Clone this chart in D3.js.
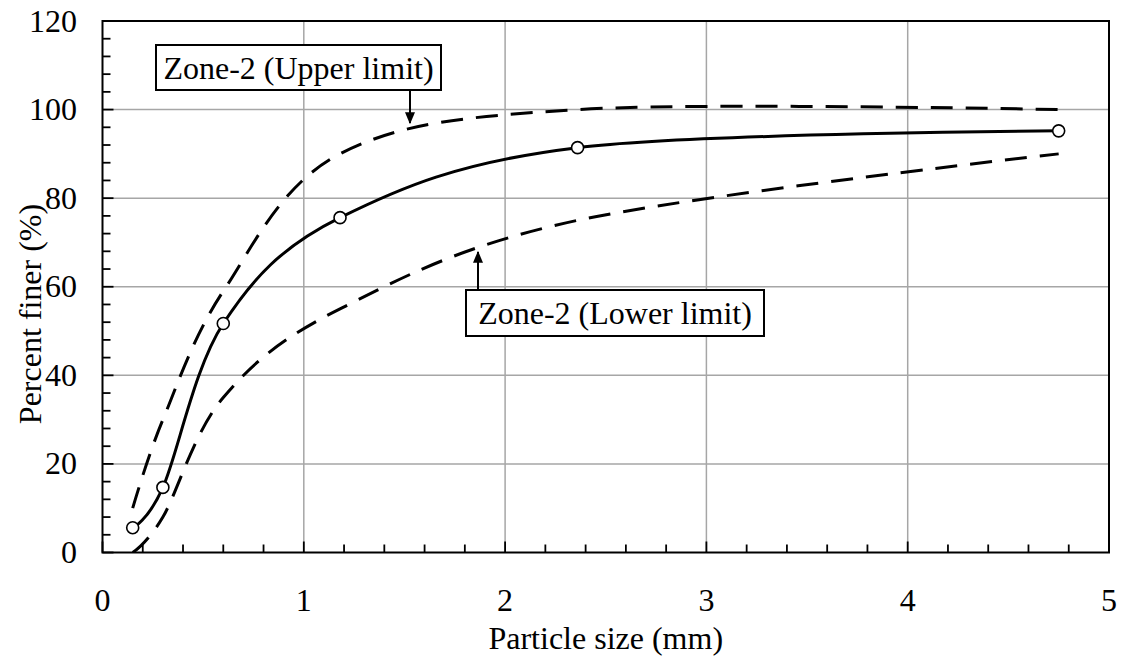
<!DOCTYPE html>
<html>
<head>
<meta charset="utf-8">
<script src="https://cdn.jsdelivr.net/npm/d3@7"></script>
<style>
  html, body { margin: 0; padding: 0; background: #fff; }
  svg { display: block; }
  svg text { font-family: "Liberation Serif", "Times New Roman", Times, "DejaVu Serif", serif; }
</style>
</head>
<body>
<svg id="chart" width="1124" height="657"></svg>
<script>
// Sieve sizes (mm) and percent finer
const sieveSizes = [0.15, 0.3, 0.6, 1.18, 2.36, 4.75];
const sampleFiner = [5.6, 14.7, 51.7, 75.6, 91.4, 95.2];
const upperLimit = [10, 30, 59, 90, 100, 100];
const lowerLimit = [0, 8, 35, 55, 75, 90];

const xTicks = [0, 1, 2, 3, 4, 5];
const yTicks = [0, 20, 40, 60, 80, 100, 120];

const upperLabel = "Zone-2 (Upper limit)";
const lowerLabel = "Zone-2 (Lower limit)";
const xTitle = "Particle size (mm)";
const yTitle = "Percent finer (%)";

const FONT = "'Liberation Serif', 'Times New Roman', Times, 'DejaVu Serif', serif";

const svg = d3.select("#chart");
const plotL = 102.5, plotR = 1109, plotT = 21, plotB = 552.5;

const x = d3.scaleLinear().domain([0, 5]).range([plotL, plotR]);
const y = d3.scaleLinear().domain([0, 120]).range([plotB, plotT]);

// Gridlines
const grid = svg.append("g").attr("stroke", "#a6a6a6").attr("stroke-width", 1.5);
grid.selectAll(".gx").data(xTicks.slice(1, -1)).join("line")
  .attr("x1", d => x(d)).attr("x2", d => x(d)).attr("y1", plotT).attr("y2", plotB);
grid.selectAll(".gy").data(yTicks.slice(1, -1)).join("line")
  .attr("y1", d => y(d)).attr("y2", d => y(d)).attr("x1", plotL).attr("x2", plotR);

// Minor and major inward ticks
const xMinor = d3.range(0, 5.0001, 0.2);
const yMinor = d3.range(0, 120.0001, 4);
const ticks = svg.append("g").attr("stroke", "#000").attr("stroke-width", 1.8);
ticks.selectAll(".tx").data(xMinor).join("line")
  .attr("x1", d => x(d)).attr("x2", d => x(d))
  .attr("y1", plotB).attr("y2", (d, i) => plotB - (i % 5 === 0 ? 11 : 8));
ticks.selectAll(".ty").data(yMinor).join("line")
  .attr("y1", d => y(d)).attr("y2", d => y(d))
  .attr("x1", plotL).attr("x2", (d, i) => plotL + (i % 5 === 0 ? 11 : 8));

// Plot frame
svg.append("rect")
  .attr("x", plotL).attr("y", plotT).attr("width", plotR - plotL).attr("height", plotB - plotT)
  .attr("fill", "none").attr("stroke", "#000").attr("stroke-width", 2);

// Tick labels
svg.append("g").selectAll("text").data(xTicks).join("text")
  .attr("x", d => x(d)).attr("y", 611)
  .attr("text-anchor", "middle").attr("font-family", FONT).attr("font-size", 32).attr("fill", "#000")
  .text(d => d);
svg.append("g").selectAll("text").data(yTicks).join("text")
  .attr("x", 77).attr("y", d => y(d) + 10.5)
  .attr("text-anchor", "end").attr("font-family", FONT).attr("font-size", 32).attr("fill", "#000")
  .text(d => d);

// Axis titles
svg.append("text")
  .attr("x", (plotL + plotR) / 2).attr("y", 649)
  .attr("text-anchor", "middle").attr("font-family", FONT).attr("font-size", 32).text(xTitle);
svg.append("text")
  .attr("transform", "translate(41,314) rotate(-90)")
  .attr("text-anchor", "middle").attr("font-family", FONT).attr("font-size", 32).text(yTitle);

// Smoothed gradation curves
const line = d3.line()
  .x(d => x(d[0])).y(d => y(d[1]))
  .curve(d3.curveCardinal.tension(0));

const zip = vals => sieveSizes.map((s, i) => [s, vals[i]]);

svg.append("clipPath").attr("id", "plotClip")
  .append("rect").attr("x", plotL).attr("y", plotT).attr("width", plotR - plotL).attr("height", plotB - plotT);

const curves = svg.append("g").attr("clip-path", "url(#plotClip)");
[upperLimit, lowerLimit].forEach(vals => {
  curves.append("path")
    .attr("d", line(zip(vals)))
    .attr("fill", "none").attr("stroke", "#000")
    .attr("stroke-width", 3).attr("stroke-dasharray", "22,13");
});
curves.append("path")
  .attr("d", line(zip(sampleFiner)))
  .attr("fill", "none").attr("stroke", "#000").attr("stroke-width", 3);

svg.append("g").selectAll("circle").data(zip(sampleFiner)).join("circle")
  .attr("cx", d => x(d[0])).attr("cy", d => y(d[1])).attr("r", 6)
  .attr("fill", "#fff").attr("stroke", "#000").attr("stroke-width", 1.6);

// Callout labels with arrows
svg.append("defs").append("marker")
  .attr("id", "arrowHead").attr("viewBox", "0 0 10 10")
  .attr("refX", 9).attr("refY", 5)
  .attr("markerWidth", 6).attr("markerHeight", 5)
  .attr("markerUnits", "strokeWidth").attr("orient", "auto")
  .attr("preserveAspectRatio", "none")
  .append("path").attr("d", "M0,0 L10,5 L0,10 Z").attr("fill", "#000");

function callout(label, bx, by, bw, bh, ax1, ay1, ax2, ay2) {
  svg.append("line")
    .attr("x1", ax1).attr("y1", ay1).attr("x2", ax2).attr("y2", ay2)
    .attr("stroke", "#000").attr("stroke-width", 2)
    .attr("marker-end", "url(#arrowHead)");
  svg.append("rect")
    .attr("x", bx).attr("y", by).attr("width", bw).attr("height", bh)
    .attr("fill", "#fff").attr("stroke", "#000").attr("stroke-width", 2);
  svg.append("text")
    .attr("x", bx + bw / 2).attr("y", by + bh / 2 + 11)
    .attr("text-anchor", "middle").attr("font-family", FONT).attr("font-size", 32).text(label);
}

callout(upperLabel, 156, 45, 285, 45, 410, 91, 410, 123);
callout(lowerLabel, 466, 290, 298, 46, 478, 290, 478, 252);
</script>
</body>
</html>
